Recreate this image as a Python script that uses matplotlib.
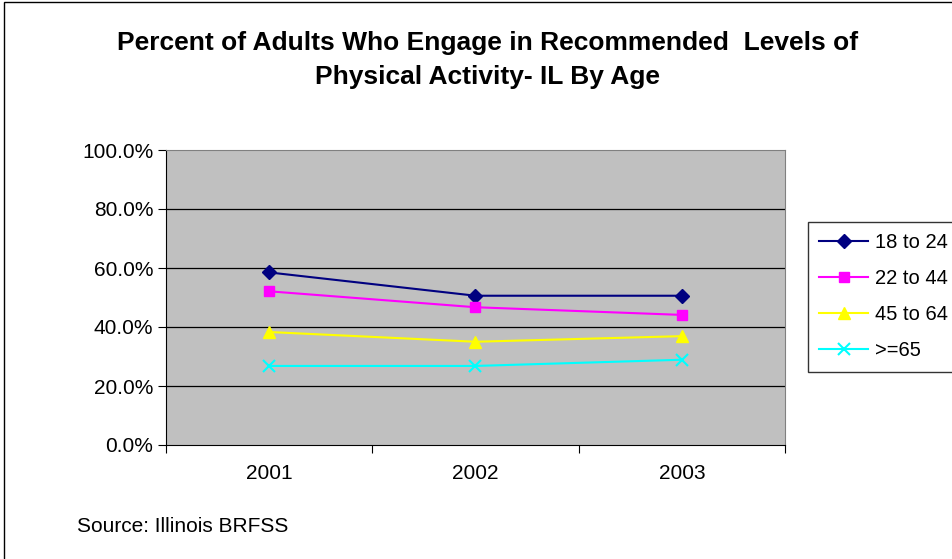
import matplotlib.pyplot as plt
from matplotlib.patches import Rectangle
from matplotlib.ticker import FuncFormatter

plt.rcParams['font.family'] = ['Liberation Sans', 'DejaVu Sans']

years = ["2001", "2002", "2003"]
age_18_24 = [58.5, 50.6, 50.6]
age_22_44 = [52.1, 46.7, 44.1]
age_45_64 = [38.3, 35.0, 36.9]
age_65 = [26.8, 26.8, 28.9]

fig = plt.figure(figsize=(9.53, 5.59), dpi=100)
fig.patches.append(Rectangle((4 / 953, -0.1), 1.2, 1.1 - 2 / 559, transform=fig.transFigure,
                             fill=False, edgecolor="black", linewidth=1.0))
ax = fig.add_axes([166 / 953, 1 - 445 / 559, 619 / 953, 295 / 559])
ax.set_facecolor("#C0C0C0")

x = range(len(years))
ax.plot(x, age_18_24, color="#000080", marker="D", markersize=7, lw=1.5, label="18 to 24")
ax.plot(x, age_22_44, color="#FF00FF", marker="s", markersize=7, lw=1.5, label="22 to 44")
ax.plot(x, age_45_64, color="#FFFF00", marker="^", markersize=9, lw=1.5, label="45 to 64")
ax.plot(x, age_65, color="#00FFFF", marker="x", markersize=9, mew=1.5, lw=1.5, label=">=65")

ax.set_ylim(0, 100)
ax.set_xlim(-0.5, 2.5)
ax.set_yticks([0, 20, 40, 60, 80, 100])
ax.yaxis.set_major_formatter(FuncFormatter(lambda v, p: "%.1f%%" % v))
for v in [20, 40, 60, 80]:
    ax.axhline(v, color="black", lw=0.9, zorder=1)

ax.set_xticks([-0.5, 0.5, 1.5, 2.5])
ax.set_xticklabels([])
ax.set_xticks(list(x), minor=True)
ax.set_xticklabels(years, minor=True)
ax.tick_params(axis="x", which="minor", length=0, pad=14, labelsize=15)
ax.tick_params(axis="x", which="major", length=6, direction="out")
ax.tick_params(axis="y", length=6, direction="out", labelsize=15, pad=3)

ax.spines["left"].set_color("black")
ax.spines["bottom"].set_color("black")
ax.spines["top"].set_color("#808080")
ax.spines["right"].set_color("#808080")

fig.text(0.512, 1 - 43 / 559, "Percent of Adults Who Engage in Recommended  Levels of",
         ha="center", va="center", fontsize=19, fontweight="bold")
fig.text(0.512, 1 - 77 / 559, "Physical Activity- IL By Age",
         ha="center", va="center", fontsize=19, fontweight="bold")
fig.text(77 / 953, 1 - 527 / 559, "Source: Illinois BRFSS", ha="left", va="center", fontsize=15)

leg = ax.legend(loc="upper left", bbox_to_anchor=(808 / 953, 1 - 222 / 559),
                bbox_transform=fig.transFigure, frameon=True, fancybox=False,
                edgecolor="black", fontsize=14.5, handlelength=2.45, labelspacing=0.85,
                borderpad=0.55, handletextpad=0.35, borderaxespad=0)
leg.get_frame().set_linewidth(1.0)

fig.savefig("out.png", dpi=100)
